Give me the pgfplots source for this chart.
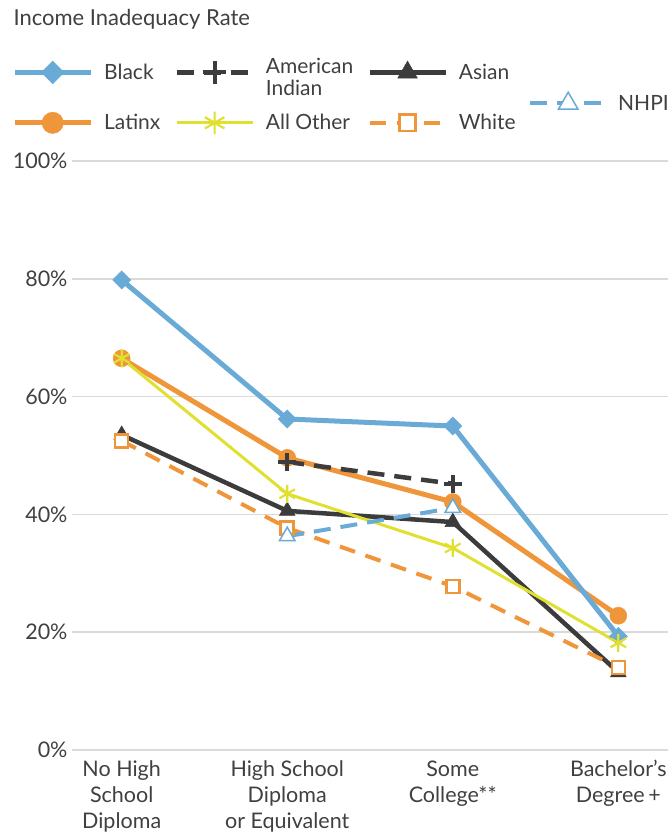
\documentclass[border=0pt]{standalone}
\usepackage{fontspec}
\setmainfont{Lato}
\usepackage{pgfplots}
\pgfplotsset{compat=1.18}
\definecolor{cBlack}{HTML}{6AAAD6}
\definecolor{cLat}{HTML}{EF963A}
\definecolor{cOth}{HTML}{E0E030}
\definecolor{cDark}{HTML}{3C3C3C}
\definecolor{cTxt}{HTML}{404040}
\definecolor{cGrid}{HTML}{DADADA}
\pgfplotsset{
  myleg/.style={legend image code/.code={\draw[mark repeat=2,mark phase=2,##1,every mark/.append style={scale=1.25}] plot coordinates {(0pt,0pt)(38pt,0pt)(76pt,0pt)};}},
  sBlack/.style={color=cBlack, line width=5pt, mark=square*, mark size=6.4pt, mark options={rotate=45, solid, line width=0.5pt}},
  sLat/.style={color=cLat, line width=5pt, mark=*, mark size=8.5pt, mark options={solid, line width=0.5pt}},
  sOth/.style={color=cOth, line width=3pt, mark=asterisk, mark size=9pt, mark options={solid, line width=2.2pt}},
  sAsian/.style={color=cDark, line width=4.5pt, mark=triangle*, mark size=9pt, mark options={solid, line width=0.5pt}},
  sWhite/.style={color=cLat, line width=4pt, dash pattern=on 16pt off 11pt, mark=square*, mark size=6.5pt, mark options={solid, line width=2.5pt, draw=cLat, fill=white}},
  sAI/.style={color=cDark, line width=4.5pt, dash pattern=on 17pt off 10pt, mark=+, mark size=9pt, mark options={solid, line width=4pt}},
  sNHPI/.style={color=cBlack, line width=4pt, dash pattern=on 17pt off 10pt, mark=triangle*, mark size=9pt, mark options={solid, line width=1.5pt, draw=cBlack, fill=white}},
}
\begin{document}
\begin{tikzpicture}
\useasboundingbox (-72pt,-86pt) rectangle (596pt,750pt);
\begin{axis}[
  scale only axis, width=596pt, height=589pt,
  xmin=-0.3, xmax=3.3, ymin=0, ymax=100,
  axis line style={draw=none}, tick style={draw=none},
  major tick length=0pt,
  ytick={0,20,40,60,80,100},
  yticklabels={0\%,20\%,40\%,60\%,80\%,100\%},
  xtick={0,1,2,3},
  xticklabels={No High\\School\\Diploma, High School\\Diploma\\or Equivalent, Some\\College**, Bachelor’s\\Degree\,+},
  ymajorgrids, grid style={cGrid, line width=1.5pt},
  ticklabel style={font=\fontsize{21.5}{26}\selectfont, text=cTxt},
  xticklabel style={align=center, yshift=-7pt},
  yticklabel style={xshift=-1pt},
  myleg,
  legend columns=3,
  legend style={draw=none, fill=none, inner sep=0pt, at={(-60/596,692/589)}, anchor=north west,
    font=\fontsize{21}{21}\selectfont, text=cTxt,
    nodes={inner sep=0pt, anchor=west},
    /tikz/every odd column/.append style={column sep=11pt},
    /tikz/every even column/.append style={column sep=14pt},
    row sep=25pt},
]
\addlegendimage{sBlack}\addlegendentry{Black}
\addlegendimage{sAI}\addlegendentry{\begin{tabular}{@{}l@{}}American\\Indian\end{tabular}}
\addlegendimage{sAsian}\addlegendentry{Asian}
\addlegendimage{sLat}\addlegendentry{Latinx}
\addlegendimage{sOth}\addlegendentry{All Other}
\addlegendimage{sWhite}\addlegendentry{White}
\addplot[sAsian, forget plot] coordinates {(0,53.5)(1,40.6)(2,38.7)(3,13.2)};
\addplot[sWhite, forget plot] coordinates {(0,52.5)(1,37.7)(2,27.8)(3,14.0)};
\addplot[sLat, forget plot] coordinates {(0,66.5)(1,49.6)(2,42.1)(3,22.8)};
\addplot[sBlack, forget plot] coordinates {(0,79.8)(1,56.2)(2,55.0)(3,19.3)};
\addplot[sOth, forget plot] coordinates {(0,66.5)(1,43.5)(2,34.3)(3,18.2)};
\addplot[sAI, forget plot] coordinates {(1,48.9)(2,45.2)};
\addplot[sNHPI, forget plot] coordinates {(1,36.3)(2,41.1)};
\end{axis}
\begin{axis}[
  scale only axis, width=596pt, height=589pt,
  xmin=-0.3, xmax=3.3, ymin=0, ymax=100, hide axis,
  myleg,
  legend style={draw=none, fill=none, inner sep=0pt, at={(456/596,648/589)}, anchor=west,
    font=\fontsize{21}{21}\selectfont, text=cTxt,
    nodes={inner sep=0pt, anchor=west},
    /tikz/every odd column/.append style={column sep=10pt}},
]
\addlegendimage{sNHPI}\addlegendentry{NHPI}
\end{axis}
\node[anchor=base west, font=\fontsize{22}{22}\selectfont, text=cTxt] at (-62pt,724pt) {Income Inadequacy Rate};
\end{tikzpicture}
\end{document}
